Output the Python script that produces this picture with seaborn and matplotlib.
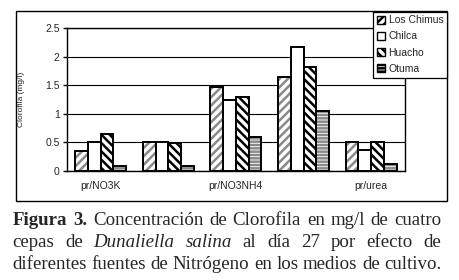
import pandas as pd
import matplotlib.pyplot as plt
import matplotlib.patches as mpatches
import seaborn as sns

# Values (Clorofila, mg/l)
groups = [0, 1, 2, 3, 4]
group_labels = ['pr/NO3K', '', 'pr/NO3NH4', '', 'pr/urea']
strains = ['Los Chimus', 'Chilca', 'Huacho', 'Otuma']
los_chimus = [0.35, 0.51, 1.48, 1.65, 0.51]
chilca = [0.51, 0.51, 1.25, 2.18, 0.36]
huacho = [0.64, 0.49, 1.29, 1.83, 0.51]
otuma = [0.08, 0.08, 0.60, 1.05, 0.13]
y_ticks = [0, 0.5, 1, 1.5, 2, 2.5]

caption_lines = [
    [('Figura', 'bold', 'normal'), ('3.', 'bold', 'normal'), ('Concentración', 'normal', 'normal'),
     ('de', 'normal', 'normal'), ('Clorofila', 'normal', 'normal'), ('en', 'normal', 'normal'),
     ('mg/l', 'normal', 'normal'), ('de', 'normal', 'normal'), ('cuatro', 'normal', 'normal')],
    [('cepas', 'normal', 'normal'), ('de', 'normal', 'normal'), ('Dunaliella', 'normal', 'italic'),
     ('salina', 'normal', 'italic'), ('al', 'normal', 'normal'), ('día', 'normal', 'normal'),
     ('27', 'normal', 'normal'), ('por', 'normal', 'normal'), ('efecto', 'normal', 'normal'),
     ('de', 'normal', 'normal')],
    [(w, 'normal', 'normal') for w in
     'diferentes fuentes de Nitrógeno en los medios de cultivo.'.split()],
]

df = pd.DataFrame({
    'grupo': groups * 4,
    'cepa': [s for s in strains for _ in groups],
    'valor': los_chimus + chilca + huacho + otuma,
})

# hatch pattern and hatch colour per strain
hatches = ['////', '', '\\\\\\\\', '-----']
hatch_colors = ['#8a8a8a', 'black', 'black', '#8a8a8a']

sns.set_style('white')
plt.rcParams['font.family'] = ['Liberation Sans', 'DejaVu Sans']
plt.rcParams['hatch.linewidth'] = 1.8

W, H = 460, 280
fig = plt.figure(figsize=(W / 100, H / 100), dpi=100)
ax = fig.add_axes([66.7 / W, 1 - 171 / H, (405 - 66.7) / W, (171 - 28.3) / H])

# filled / hatched bars
sns.barplot(data=df, x='grupo', y='valor', hue='cepa', hue_order=strains,
            palette=['white'] * 4, width=0.75, ax=ax, legend=False,
            errorbar=None, linewidth=0, native_scale=True)
for cont, h, hc in zip(ax.containers, hatches, hatch_colors):
    for p in cont:
        p.set_hatch(h)
        p.set_edgecolor(hc)
        p.set_linewidth(0)

# black outlines on top
sns.barplot(data=df, x='grupo', y='valor', hue='cepa', hue_order=strains,
            palette=['black'] * 4, width=0.75, ax=ax, legend=False,
            errorbar=None, fill=False, linewidth=1.4, native_scale=True)

ax.set_xlim(-0.5, 4.5)
ax.set_ylim(0, 2.5)
ax.set_yticks(y_ticks)
ax.set_yticklabels(['0', '0.5', '1', '1.5', '2', '2.5'], fontsize=7.5)
ax.set_xticks([g - 0.5 for g in groups] + [4.5])
ax.set_xticklabels([])
ax.set_xticks(groups, minor=True)
ax.set_xticklabels(group_labels, minor=True, fontsize=7.5)
ax.tick_params(axis='x', which='major', length=3, width=1, direction='out', color='black')
ax.tick_params(axis='x', which='minor', length=0, pad=7)
ax.tick_params(axis='y', length=3, width=1, direction='out', color='black', pad=2, left=True)
ax.set_xlabel('')
ax.set_ylabel('')
ax.yaxis.grid(True, color='black', linewidth=0.8)
ax.set_axisbelow(True)
for s in ax.spines.values():
    s.set_visible(True)
    s.set_color('black')
    s.set_linewidth(1)

fig.text(22 / W, 1 - 99 / H, 'Clorofila (mg/l)', rotation=90, fontsize=6,
         ha='center', va='center')

# legend
handles = [mpatches.Patch(facecolor='white', edgecolor='black', hatch=h, linewidth=1)
           for h in hatches]
fig.legend(handles, strains, loc='upper right', bbox_to_anchor=(447 / W, 1 - 11.5 / H),
           fontsize=7.5, frameon=True, fancybox=False, edgecolor='black', framealpha=1,
           handlelength=0.8, handleheight=0.8, handletextpad=0.3, labelspacing=0.6,
           borderpad=0.35, borderaxespad=0)
leg = fig.legends[0]
leg.get_frame().set_linewidth(0.9)

# outer chart frame
fig.patches.append(mpatches.Rectangle((16 / W, 1 - 201 / H), (447 - 16) / W, (201 - 11) / H,
                                      transform=fig.transFigure, fill=False,
                                      edgecolor='black', linewidth=1))

# justified caption below the chart
fig.canvas.draw()
renderer = fig.canvas.get_renderer()
x0, x1 = 12.5, 441.5
# pick the font size so the last line fits naturally
probe = fig.text(0, 0, ' '.join(w for w, _, _ in caption_lines[2]),
                 fontfamily='Liberation Serif', fontsize=10)
cap_size = 10 * (x1 - x0) / probe.get_window_extent(renderer).width
probe.remove()
baselines = [225, 247, 269]
for words, yb in zip(caption_lines, baselines):
    objs = [fig.text(0, 0, w, fontfamily='Liberation Serif', fontsize=cap_size,
                     fontweight=fw, fontstyle=fs, va='baseline', ha='left')
            for w, fw, fs in words]
    widths = [t.get_window_extent(renderer).width for t in objs]
    gap = (x1 - x0 - sum(widths)) / (len(objs) - 1)
    x = x0
    for t, w in zip(objs, widths):
        t.set_position((x / W, 1 - yb / H))
        x += w + gap

fig.savefig('out.png', dpi=100)
